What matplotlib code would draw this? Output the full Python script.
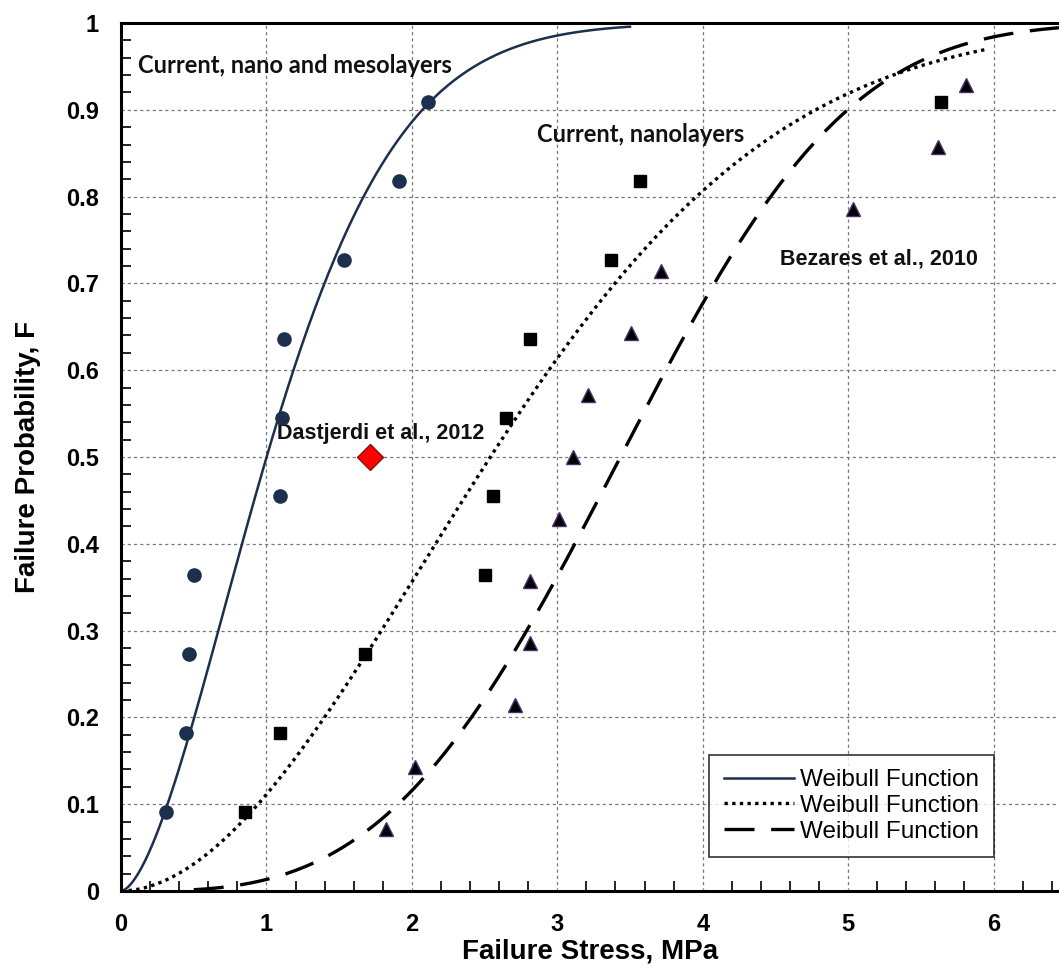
import numpy as np
import matplotlib
matplotlib.use("Agg")
import matplotlib.pyplot as plt
from matplotlib.ticker import MultipleLocator

# measured failure stress (MPa) and median-rank failure probability
nano_meso_stress = [0.31, 0.45, 0.47, 0.50, 1.09, 1.11, 1.12, 1.53, 1.91, 2.11]
nano_meso_prob = [0.091, 0.182, 0.273, 0.364, 0.455, 0.545, 0.636, 0.727, 0.818, 0.909]

nano_stress = [0.85, 1.09, 1.68, 2.50, 2.56, 2.65, 2.81, 3.37, 3.57, 5.64]
nano_prob = [0.091, 0.182, 0.273, 0.364, 0.455, 0.545, 0.636, 0.727, 0.818, 0.909]

bezares_stress = [1.82, 2.02, 2.71, 2.81, 2.81, 3.01, 3.11, 3.21, 3.51, 3.71, 5.03, 5.62, 5.81]
bezares_prob = [0.071, 0.143, 0.214, 0.286, 0.357, 0.429, 0.500, 0.571, 0.643, 0.714,
                0.786, 0.857, 0.929]

dastjerdi_stress = [1.71]
dastjerdi_prob = [0.50]

# Weibull fits: (modulus m, scale s0, x range)
weibull_solid = (1.65, 1.25, 0.0, 3.5)
weibull_dotted = (1.9, 3.08, 0.0, 5.95)
weibull_dashed = (3.2, 3.85, 0.5, 6.45)

NAVY = "#1c2f4d"


def weibull(params, n=300):
    m, s0, x0, x1 = params
    x = np.linspace(x0, x1, n)
    return x, 1 - np.exp(-(x / s0) ** m)


fig = plt.figure(figsize=(10.59, 9.71), dpi=100)
ax = fig.add_axes([0.1143, 0.0824, 0.8857, 0.8939])

ax.grid(True, which="major", color="#777777", linestyle=(0, (2.5, 2.5)), linewidth=0.9)
ax.set_axisbelow(True)

x, y = weibull(weibull_solid)
ax.plot(x, y, color=NAVY, lw=1.8, label="Weibull Function", zorder=3)
x, y = weibull(weibull_dotted)
ax.plot(x, y, color="black", lw=2.4, linestyle=(0, (1.0, 1.3)), label="Weibull Function", zorder=3)
x, y = weibull(weibull_dashed)
ax.plot(x, y, color="black", lw=2.4, linestyle=(0, (9, 5)), label="Weibull Function", zorder=3)

ax.plot(nano_meso_stress, nano_meso_prob, "o", color=NAVY, ms=9.5, zorder=4)
ax.plot(nano_stress, nano_prob, "s", color="black", ms=9, zorder=4)
ax.plot(bezares_stress, bezares_prob, "^", color="black", mec="#4a3070", mew=1.0, ms=9.5, zorder=4)
ax.plot(dastjerdi_stress, dastjerdi_prob, "D", color="#ff0000", mec="#8a1010", mew=1.0, ms=13, zorder=4)

ann = dict(fontweight="bold", color="#111111", va="center", ha="left")
ax.text(0.117, 0.951, "Current, nano and mesolayers", family="Lato", fontsize=17, **ann)
ax.text(2.86, 0.872, "Current, nanolayers", family="Lato", fontsize=17, **ann)
ax.text(4.53, 0.728, "Bezares et al., 2010", family="Liberation Sans", fontsize=15.5, **ann)
ax.text(1.07, 0.527, "Dastjerdi et al., 2012", family="Liberation Sans", fontsize=15.5, **ann)

ax.set_xlim(0, 6.45)
ax.set_ylim(0, 1)
ax.xaxis.set_major_locator(MultipleLocator(1))
ax.xaxis.set_minor_locator(MultipleLocator(0.2))
ax.yaxis.set_major_locator(MultipleLocator(0.1))
ax.yaxis.set_minor_locator(MultipleLocator(0.02))
ax.set_yticks(np.arange(0, 1.01, 0.1))
ax.set_yticklabels(["0", "0.1", "0.2", "0.3", "0.4", "0.5", "0.6", "0.7", "0.8", "0.9", "1"])

ax.tick_params(which="both", direction="in", top=False, right=False)
ax.tick_params(which="major", length=0, pad=16, labelsize=17)
ax.tick_params(which="minor", length=7, width=1.2)
for lab in ax.get_xticklabels() + ax.get_yticklabels():
    lab.set_fontweight("bold")
    lab.set_family("Liberation Sans")

for side in ["left", "bottom", "top"]:
    ax.spines[side].set_linewidth(2.2)
ax.spines["right"].set_visible(False)

ax.set_xlabel("Failure Stress, MPa", family="Liberation Sans", fontweight="bold", fontsize=20, labelpad=2)
ax.set_ylabel("Failure Probability, F", family="Liberation Sans", fontweight="bold", fontsize=20, labelpad=18)

leg = ax.legend(loc="lower left", bbox_to_anchor=(0.627, 0.039), borderaxespad=0, frameon=True,
                fancybox=False, prop={"family": "Liberation Sans", "size": 17.5}, handlelength=2.9,
                labelspacing=0.15, borderpad=0.6, handletextpad=0.25)
leg.get_frame().set_edgecolor("black")
leg.get_frame().set_linewidth(1.2)

fig.savefig("out.png", dpi=100)
